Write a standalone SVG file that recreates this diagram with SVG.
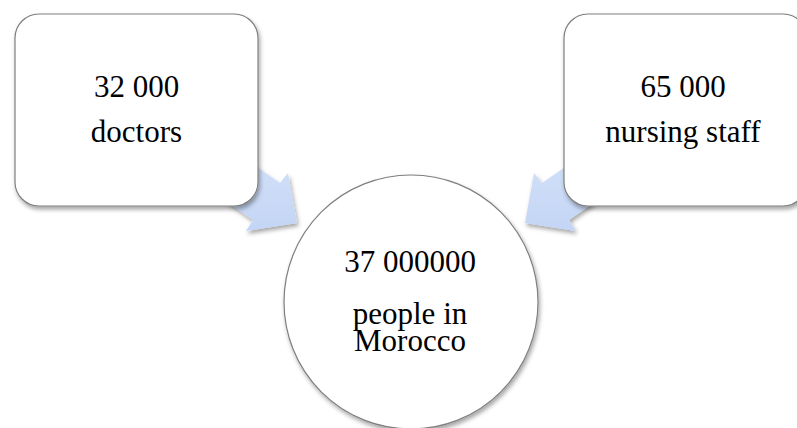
<svg xmlns="http://www.w3.org/2000/svg" width="797" height="428" viewBox="0 0 797 428">
  <defs>
    <filter id="shadow" x="-20%" y="-20%" width="140%" height="140%">
      <feDropShadow dx="1.5" dy="3" stdDeviation="2" flood-color="#000" flood-opacity="0.35"/>
    </filter>
    <linearGradient id="arrowFill" x1="0" y1="0" x2="0" y2="1">
      <stop offset="0" stop-color="#d9e5f9"/>
      <stop offset="1" stop-color="#c3d5f5"/>
    </linearGradient>
    <style>
      .box { fill: #ffffff; stroke: #7f7f7f; stroke-width: 1.2; filter: url(#shadow); }
      .arrow { fill: url(#arrowFill); stroke: none; filter: url(#shadow); }
      .label { font-family: "Liberation Serif", "Times New Roman", serif; font-size: 31px; fill: #000; text-anchor: middle; }
    </style>
  </defs>

  <!-- block arrows pointing from each box toward the circle -->
  <g id="connectors">
    <path class="arrow" d="M198,126 L280,183 L288,173 L297,223 L246,231 L253,220 L171,163 Z"/>
    <path class="arrow" d="M624,126 L542,183 L534,173 L525,223 L576,231 L569,220 L651,163 Z"/>
  </g>

  <g id="doctors">
    <rect class="box" x="15" y="14" width="243" height="192" rx="24" ry="24"/>
    <text class="label" x="136.5" y="97">32 000</text>
    <text class="label" x="136.5" y="142">doctors</text>
  </g>

  <g id="nursing">
    <rect class="box" x="564" y="14" width="243" height="192" rx="24" ry="24"/>
    <text class="label" x="683" y="97">65 000</text>
    <text class="label" x="683" y="142">nursing staff</text>
  </g>

  <g id="population">
    <circle class="box" cx="411" cy="302" r="127"/>
    <text class="label" x="410" y="272">37 000000</text>
    <text class="label" x="410" y="324">people in</text>
    <text class="label" x="410" y="351">Morocco</text>
  </g>
</svg>
